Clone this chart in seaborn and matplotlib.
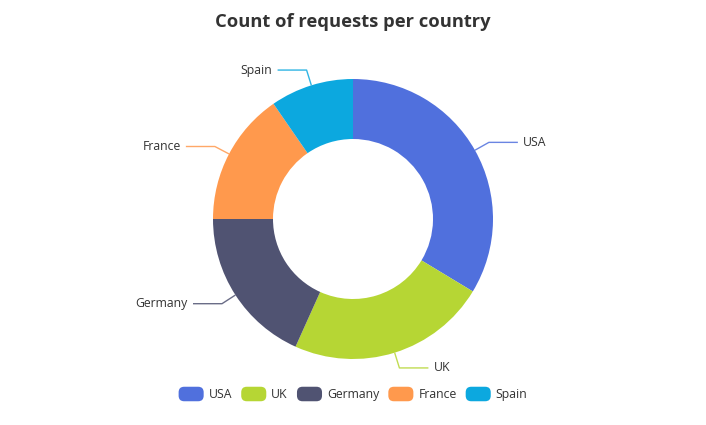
import numpy as np
import matplotlib
matplotlib.use("Agg")
import matplotlib.pyplot as plt
import seaborn as sns
from matplotlib.patches import FancyBboxPatch
from matplotlib.legend_handler import HandlerPatch

countries = ["USA", "UK", "Germany", "France", "Spain"]
requests = [35, 24, 19, 16, 10]
colors = ["#5070dd", "#b6d634", "#505372", "#ff994d", "#0ca8df"]
title = "Count of requests per country"

sns.set_theme(style="white")
plt.rcParams['font.family'] = ['Open Sans', 'DejaVu Sans']

W, H = 706, 425
fig = plt.figure(figsize=(W / 100, H / 100), dpi=100)
ax = fig.add_axes([0, 0, 1, 1])

cx, cy = 353, H - 219
R, r_in = 140, 80
wedges, _ = ax.pie(requests, colors=colors, startangle=90, counterclock=False,
                   center=(cx, cy), radius=R, frame=True,
                   wedgeprops=dict(width=R - r_in, linewidth=0))
ax.set_xlim(0, W)
ax.set_ylim(0, H)
ax.axis("off")

for w, name, c in zip(wedges, countries, colors):
    mid = np.deg2rad((w.theta1 + w.theta2) / 2)
    ux, uy = np.cos(mid), np.sin(mid)
    x0, y0 = cx + R * ux, cy + R * uy
    x1, y1 = cx + (R + 16) * ux, cy + (R + 16) * uy
    side = 1 if ux >= 0 else -1
    x2 = x1 + side * 29
    ax.plot([x0, x1, x2], [y0, y1, y1], color=c, lw=1, alpha=0.85,
            solid_capstyle="butt")
    ax.text(x2 + side * 5, y1, name, ha="left" if side > 0 else "right",
            va="center", fontsize=8.8, color="#333333")

ax.text(cx, H - 22, title, ha="center", va="center", fontsize=13.2,
        fontweight="bold", color="#333333")


class RoundHandler(HandlerPatch):
    def create_artists(self, legend, orig_handle, xdescent, ydescent,
                       width, height, fontsize, trans):
        p = FancyBboxPatch((-xdescent, -ydescent), width, height,
                           boxstyle="round,pad=0,rounding_size=4",
                           facecolor=orig_handle.get_facecolor(),
                           edgecolor="none", transform=trans)
        return [p]


leg = ax.legend(wedges, countries, loc="center",
                bbox_to_anchor=(cx / W, 1 - 394 / H), bbox_transform=fig.transFigure,
                ncol=5, frameon=False, fontsize=8.8, handlelength=2.05,
                handleheight=1.45, handletextpad=0.4, columnspacing=0.75,
                borderpad=0,
                handler_map={matplotlib.patches.Wedge: RoundHandler()})
for t in leg.get_texts():
    t.set_color("#333333")

fig.savefig("out.png", dpi=100)
